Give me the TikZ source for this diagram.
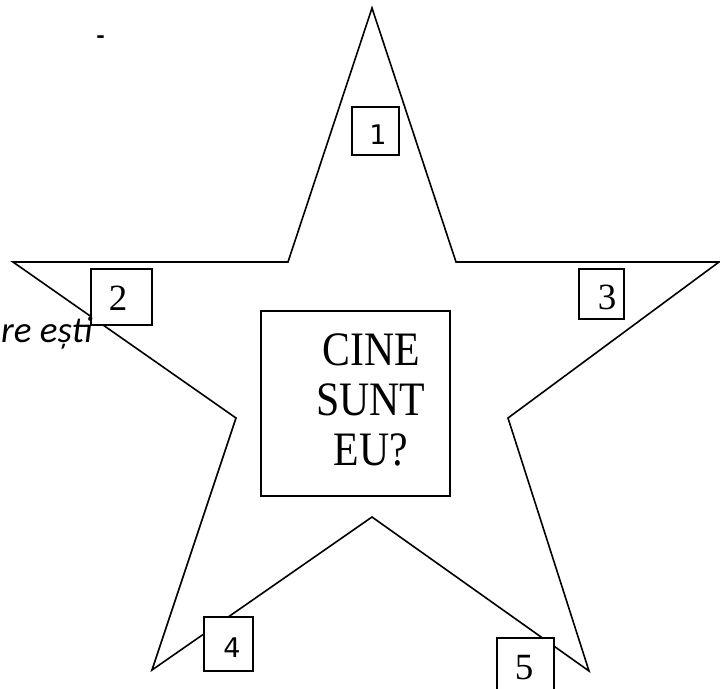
\documentclass[tikz,border=0pt]{standalone}
\usepackage{fontspec}
\setmainfont{Liberation Serif}
\newfontfamily\narrowserif[FakeStretch=0.87]{Liberation Serif}
\newfontfamily\digitsans{DejaVu Sans}
\newfontfamily\notefont{Carlito}

\begin{document}
\begin{tikzpicture}[x=1pt,y=-1pt, line width=1.6pt,
    numbox/.style={draw, fill=white, inner sep=0pt, anchor=north west},
    serifnum/.style={font=\fontsize{37}{37}\selectfont},
    sansnum/.style={font=\digitsans\fontsize{27}{27}\selectfont},
    bigtext/.style={align=center, font=\narrowserif\fontsize{48}{50}\selectfont}]

    % Rahmen
    \useasboundingbox (0,0) rectangle (720,688);

    % Sternpunkte
    \coordinate (top) at (372,8);
    \coordinate (ul) at (288,262);
    \coordinate (lt) at (13,262);
    \coordinate (li) at (236,418);
    \coordinate (bl) at (152,670);
    \coordinate (bi) at (372,517);
    \coordinate (br) at (589,671);
    \coordinate (ri) at (508,418);
    \coordinate (rt) at (719,262);
    \coordinate (ur) at (456,262);

    % Stern
    \draw[line join=miter] (top) -- (ul) -- (lt) -- (li) -- (bl) -- (bi)
        -- (br) -- (ri) -- (rt) -- (ur) -- cycle;

    % Mittelfeld
    \node[numbox, minimum width=189pt, minimum height=185pt] (mid) at (260,310) {};
    \node[bigtext] (q) at (371,400) {CINE\\SUNT\\EU?};

    % Kästchen
    \node[numbox, minimum width=47pt, minimum height=48pt] (b1) at (351,106) {};
    \node[numbox, minimum width=61pt, minimum height=56pt] (b2) at (90,268) {};
    \node[numbox, minimum width=45pt, minimum height=50pt] (b3) at (578,268) {};
    \node[numbox, minimum width=49pt, minimum height=54pt] (b4) at (203,616) {};
    \node[numbox, minimum width=57pt, minimum height=60pt] (b5) at (496,637) {};

    % Ziffern
    \node[sansnum] (d1) at (378,135) {1};
    \node[serifnum] (d2) at (118,298) {2};
    \node[serifnum] (d3) at (607,297) {3};
    \node[sansnum] (d4) at (232,648) {4};
    \node[serifnum] (d5) at (524,668) {5};

    % Randtext
    \node[anchor=base east, inner sep=0pt, font=\notefont\itshape\fontsize{37}{37}\selectfont]
        (note) at (93,342) {re ești};
    \node[anchor=base, inner sep=0pt, font=\notefont\bfseries\fontsize{26}{26}\selectfont]
        (dash) at (100.5,44) {-};

\end{tikzpicture}
\end{document}
